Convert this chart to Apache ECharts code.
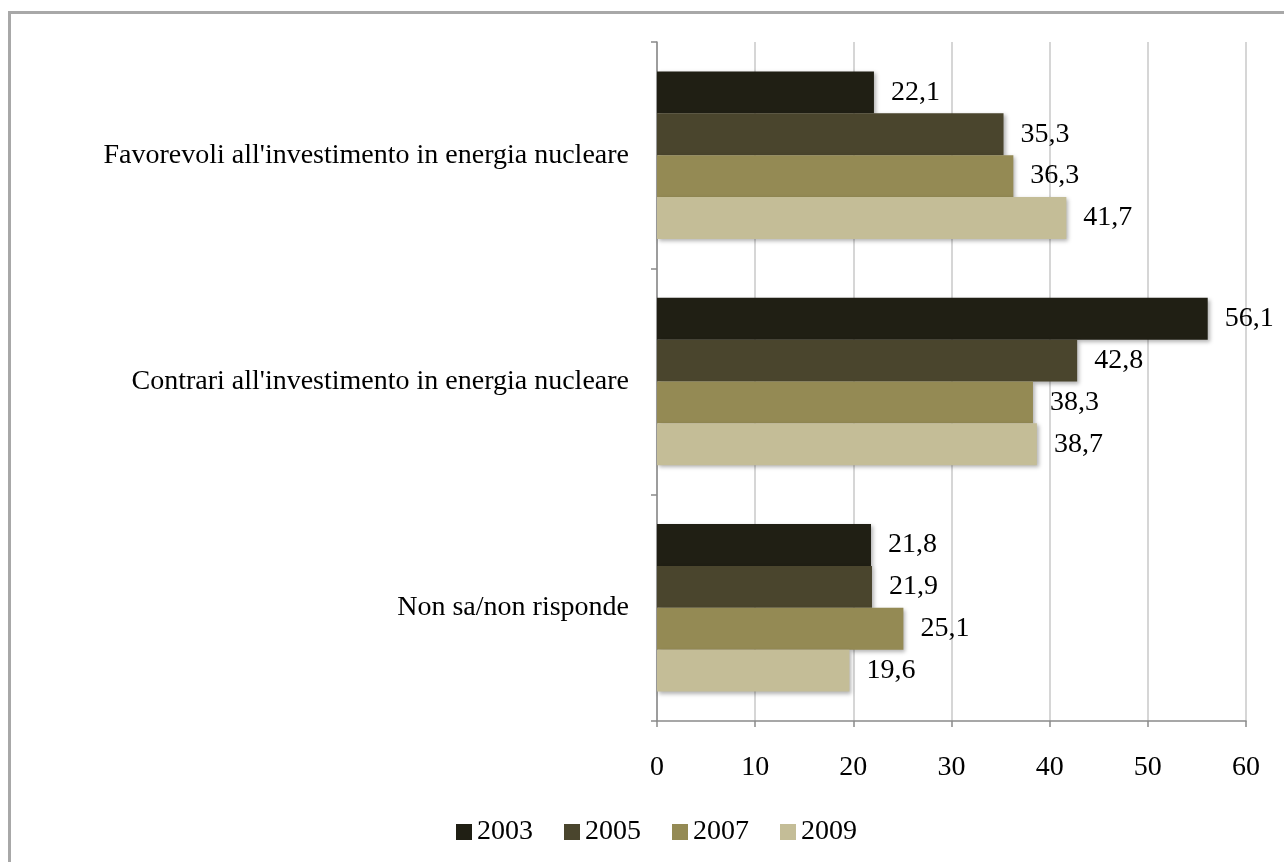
<!DOCTYPE html>
<html>
<head>
<meta charset="utf-8">
<script src="https://cdn.jsdelivr.net/npm/echarts@6/dist/echarts.min.js"></script>
<style>html,body{margin:0;padding:0;background:#fff}#c{width:1284px;height:862px}</style>
</head>
<body>
<div id="c"></div>
<script>
const categories = ["Favorevoli all'investimento in energia nucleare", "Contrari all'investimento in energia nucleare", "Non sa/non risponde"];
const years = ["2003", "2005", "2007", "2009"];
const v2003 = [22.1, 56.1, 21.8];
const v2005 = [35.3, 42.8, 21.9];
const v2007 = [36.3, 38.3, 25.1];
const v2009 = [41.7, 38.7, 19.6];
const xTicks = [0, 10, 20, 30, 40, 50, 60];
const colors = ['#201f14', '#4a452d', '#948a54', '#c4bd97'];
const seriesValues = [v2003, v2005, v2007, v2009];
const FONT = "'Liberation Serif', 'Times New Roman', serif";
const FS = 28;

const chart = echarts.init(document.getElementById('c'));
chart.setOption({
  animation: false,
  backgroundColor: '#fff',
  graphic: [{
    type: 'rect', left: 7, top: 10, silent: true, z: -1,
    shape: { width: 1400, height: 1000 },
    style: { fill: 'none', stroke: '#a8a8a8', lineWidth: 3 }
  }],
  grid: { left: 657, right: 38, top: 42, bottom: 141, containLabel: false },
  legend: {
    data: years,
    bottom: 11,
    left: 451,
    icon: 'rect',
    itemWidth: 16,
    itemHeight: 16,
    itemGap: 31,
    textStyle: { fontFamily: FONT, fontSize: FS, color: '#000' }
  },
  xAxis: {
    type: 'value', min: xTicks[0], max: xTicks[xTicks.length - 1], interval: 10,
    axisLine: { show: true, lineStyle: { color: '#8a8a8a', width: 1.5 } },
    axisTick: { show: true, length: 6, lineStyle: { color: '#8a8a8a', width: 1.5 } },
    axisLabel: { margin: 33, fontFamily: FONT, fontSize: FS, color: '#000' },
    splitLine: { show: true, lineStyle: { color: '#c8c8c8', width: 1.5 } }
  },
  yAxis: {
    type: 'category', data: categories, inverse: true,
    axisLine: { show: true, lineStyle: { color: '#8a8a8a', width: 1.5 } },
    axisTick: { show: true, length: 6, lineStyle: { color: '#8a8a8a', width: 1.5 } },
    axisLabel: { margin: 28, fontFamily: FONT, fontSize: FS, color: '#000' }
  },
  series: years.map((y, i) => ({
    name: y,
    type: 'bar',
    data: seriesValues[i],
    barGap: '0%',
    barCategoryGap: '26%',
    itemStyle: {
      color: colors[i],
      shadowBlur: 4, shadowOffsetX: 2, shadowOffsetY: 2, shadowColor: 'rgba(0,0,0,0.3)'
    },
    label: {
      show: true, position: 'right', distance: 17,
      fontFamily: FONT, fontSize: FS, color: '#000',
      formatter: p => String(p.value).replace('.', ',')
    }
  }))
});
</script>
</body>
</html>
